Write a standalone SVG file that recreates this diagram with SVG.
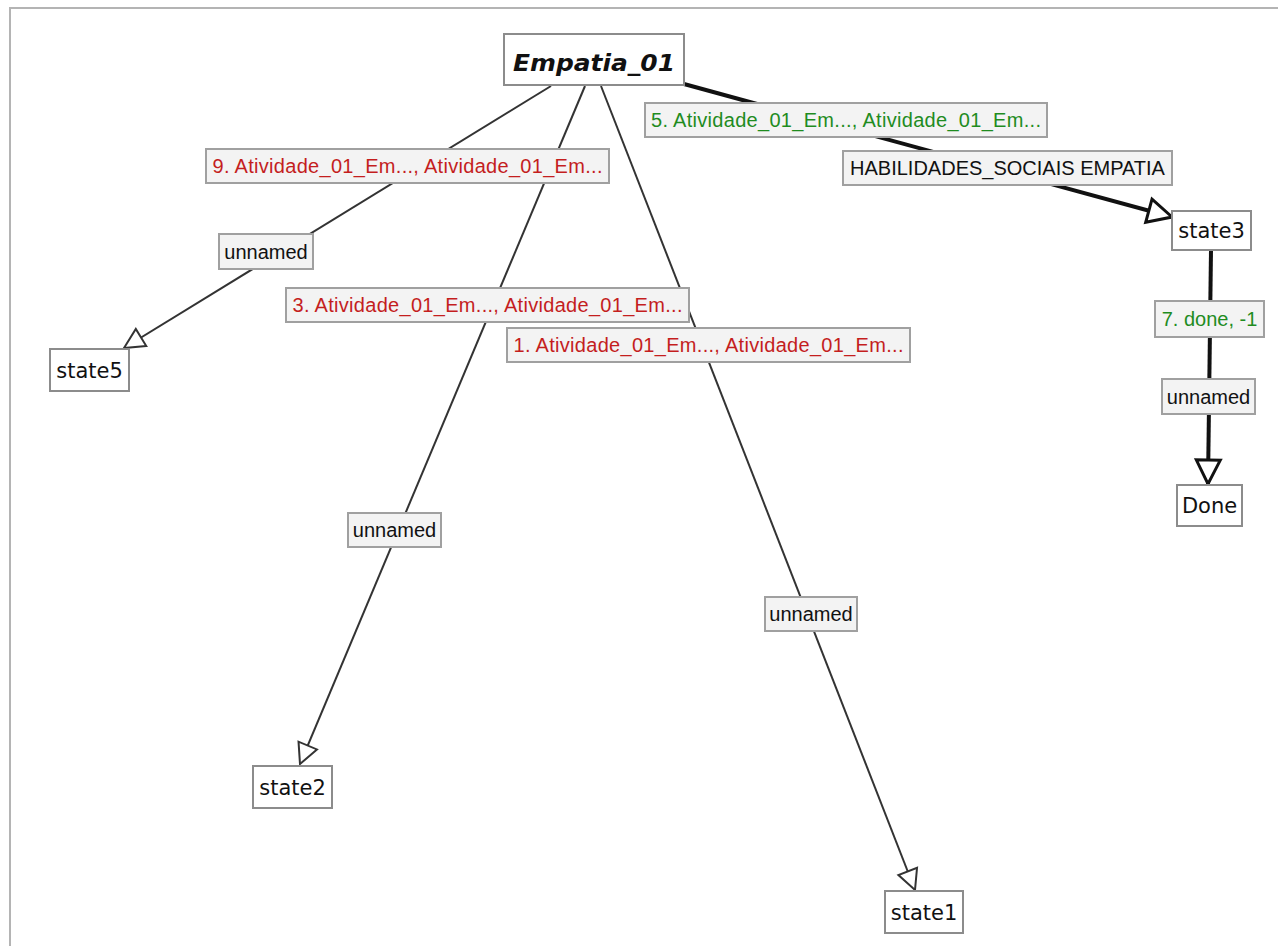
<svg xmlns="http://www.w3.org/2000/svg" width="1278" height="946" viewBox="0 0 1278 946">
<style>
.frame{fill:none;stroke:#b4b4b4;stroke-width:2}
.node rect{fill:#ffffff;stroke:#8c8c8c;stroke-width:2}
.node text{font-family:"DejaVu Sans",sans-serif;font-size:21px;fill:#111;text-anchor:middle}
.lbl rect{fill:#f3f3f3;stroke:#a0a0a0;stroke-width:2}
.lbl text{font-family:"Liberation Sans",Arial,sans-serif;font-size:20px;text-anchor:middle}
.red{fill:#c41e1e}
.green{fill:#1f8c1f}
.blk{fill:#111}
.thin{fill:none;stroke:#333;stroke-width:2}
.thick{fill:none;stroke:#111;stroke-width:4}
</style>
<defs>
<marker id="ah" markerUnits="userSpaceOnUse" viewBox="-2 -2 24 24" refX="20" refY="10" markerWidth="24" markerHeight="24" orient="auto" overflow="visible">
<path d="M0,0 L20,10 L0,20 Z" fill="#fff" stroke="#333" stroke-width="2"/>
</marker>
<marker id="ahb" markerUnits="userSpaceOnUse" viewBox="-3 -3 30 30" refX="24" refY="12" markerWidth="30" markerHeight="30" orient="auto" overflow="visible">
<path d="M0,0 L24,12 L0,24 Z" fill="#fff" stroke="#111" stroke-width="3"/>
</marker>
</defs>
<rect width="1278" height="946" fill="#fff"/>
<path class="frame" d="M10,946 L10,8 L1278,8"/>
<g id="connectors">
<line class="thin" x1="551" y1="86" x2="124" y2="348" marker-end="url(#ah)"/>
<line class="thin" x1="585" y1="86" x2="300" y2="764" marker-end="url(#ah)"/>
<line class="thin" x1="601" y1="86" x2="915" y2="890" marker-end="url(#ah)"/>
<line class="thick" x1="684" y1="84" x2="1172" y2="217" marker-end="url(#ahb)"/>
<line class="thick" x1="1211" y1="250" x2="1208" y2="484" marker-end="url(#ahb)"/>
<g class="lbl">
<rect x="206" y="149" width="403" height="34"/>
<text class="red" x="407.5" y="173" textLength="390" lengthAdjust="spacing">9. Atividade_01_Em..., Atividade_01_Em...</text>
<rect x="219" y="234" width="94" height="35"/>
<text class="blk" x="266" y="259">unnamed</text>
<rect x="286" y="288" width="403" height="34"/>
<text class="red" x="487.5" y="312" textLength="390" lengthAdjust="spacing">3. Atividade_01_Em..., Atividade_01_Em...</text>
<rect x="507" y="328" width="403" height="34"/>
<text class="red" x="708.5" y="352" textLength="390" lengthAdjust="spacing">1. Atividade_01_Em..., Atividade_01_Em...</text>
<rect x="348" y="513" width="93" height="34"/>
<text class="blk" x="394.5" y="537">unnamed</text>
<rect x="765" y="597" width="92" height="34"/>
<text class="blk" x="811" y="621">unnamed</text>
<rect x="645" y="103" width="402" height="34"/>
<text class="green" x="846" y="127" textLength="390" lengthAdjust="spacing">5. Atividade_01_Em..., Atividade_01_Em...</text>
<rect x="843" y="151" width="329" height="34"/>
<text class="blk" x="1007.5" y="175">HABILIDADES_SOCIAIS EMPATIA</text>
<rect x="1155" y="301" width="109" height="36"/>
<text class="green" x="1209.5" y="326">7. done, -1</text>
<rect x="1162" y="379" width="93" height="35"/>
<text class="blk" x="1208.5" y="404">unnamed</text>
</g>
</g>
<g id="Empatia_01" class="node">
<rect x="504" y="34" width="180" height="51"/>
<text x="594" y="71" style="font-weight:bold;font-style:italic;font-size:23px" textLength="162" lengthAdjust="spacingAndGlyphs">Empatia_01</text>
</g>
<g id="state5" class="node">
<rect x="50" y="349" width="79" height="42"/>
<text x="89.5" y="378">state5</text>
</g>
<g id="state2" class="node">
<rect x="253" y="766" width="79" height="42"/>
<text x="292.5" y="795">state2</text>
</g>
<g id="state1" class="node">
<rect x="885" y="891" width="78" height="42"/>
<text x="924" y="920">state1</text>
</g>
<g id="state3" class="node">
<rect x="1172" y="211" width="79" height="39"/>
<text x="1211.5" y="238">state3</text>
</g>
<g id="Done" class="node">
<rect x="1177" y="485" width="65" height="41"/>
<text x="1209.5" y="513">Done</text>
</g>
</svg>
